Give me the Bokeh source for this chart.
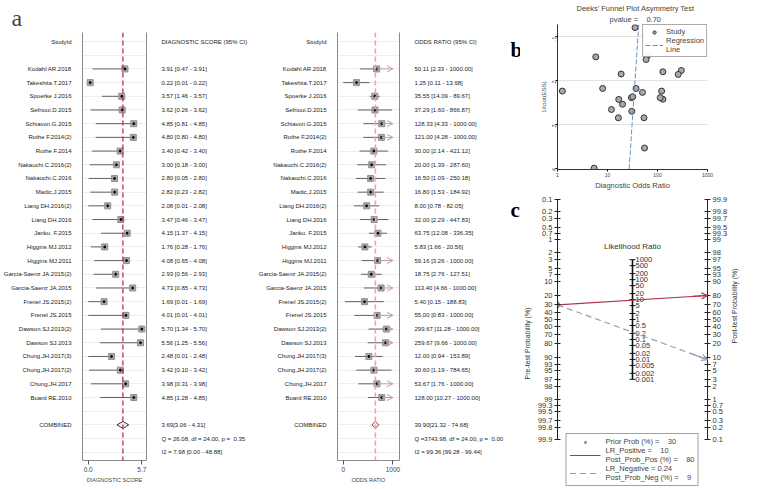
import math
import numpy as np
from bokeh.plotting import figure
from bokeh.models import (Range1d, FixedTicker, LinearAxis, Span, Arrow, OpenHead,
                          Label, Legend, LegendItem, ColumnDataSource, Title)
from bokeh.layouts import row, column
from bokeh.embed import file_html
from bokeh.resources import INLINE
from bokeh.core.properties import value

# ---------------- data ----------------
studies = ["Kodahl AR.2018", "Takeshita.T.2017", "Spoerke J.2016", "Sefrioui.D.2015",
           "Schiavon.G.2015", "Rothe F.2014(2)", "Rothe F.2014", "Nakauchi.C.2016(2)",
           "Nakauchi.C.2016", "Madic,J.2015", "Liang DH.2016(2)", "Liang DH.2016",
           "Janku. F.2015", "Higgins MJ.2012", "Higgins MJ.2011", "Garcia-Saenz JA.2015(2)",
           "Garcia-Saenz JA.2015", "Frenel JS.2015(2)", "Frenel JS.2015", "Dawson SJ.2013(2)",
           "Dawson SJ.2013", "Chung.JH.2017(3)", "Chung,JH.2017(2)", "Chung,JH.2017",
           "Board RE.2010"]
score_est = [3.91, 0.22, 3.57, 3.62, 4.85, 4.80, 3.40, 3.00, 2.80, 2.82, 2.08, 3.47, 4.15,
             1.76, 4.08, 2.93, 4.73, 1.69, 4.01, 5.70, 5.56, 2.48, 3.42, 3.98, 4.85]
score_lo = [0.47, 0.01, 1.46, 0.26, 0.81, 0.80, 0.42, 0.18, 0.05, 0.23, 0.01, 0.46, 1.37,
            0.28, 0.65, 0.56, 0.85, 0.01, 0.01, 1.34, 1.25, 0.01, 0.10, 0.31, 1.28]
score_hi = [3.91, 0.22, 3.57, 3.62, 4.85, 4.80, 3.40, 3.00, 2.80, 2.82, 2.08, 3.47, 4.15,
            1.76, 4.08, 2.93, 4.73, 1.69, 4.01, 5.70, 5.56, 2.48, 3.42, 3.98, 4.85]
or_est = [50.11, 1.25, 35.55, 37.29, 128.33, 121.00, 30.00, 20.00, 16.50, 16.80, 8.00, 32.00,
          63.75, 5.83, 59.16, 18.75, 113.40, 5.40, 55.00, 299.67, 259.67, 12.00, 30.60, 53.67,
          128.00]
or_lo = [2.33, 0.11, 14.09, 1.60, 4.33, 4.28, 2.14, 1.39, 1.09, 1.53, 0.78, 2.29, 12.08, 1.66,
         3.26, 2.76, 4.66, 0.15, 0.83, 11.28, 9.66, 0.94, 1.19, 1.76, 10.27]
or_hi = [1000.00, 13.68, 89.67, 866.87, 1000.00, 1000.00, 421.12, 287.60, 250.18, 184.92,
         82.05, 447.83, 336.35, 20.56, 1000.00, 127.51, 1000.00, 188.83, 1000.00, 1000.00,
         1000.00, 153.89, 784.65, 1000.00, 1000.00]
score_comb = (3.69, 3.06, 4.31)
or_comb = (39.90, 21.32, 74.68)
score_q = "Q = 26.08, df = 24.00, p =  0.35"
score_i2 = "I2 = 7.98 [0.00 - 48.88]"
or_q = "Q =3743.98, df = 24.00, p =  0.00"
or_i2 = "I2 = 99.36 [99.28 - 99.44]"

# Deeks' funnel plot: 1/root(ESS) of each study (x = diagnostic odds ratio)
inv_root_ess = [0.227, 0.224, 0.079, 0.218, 0.2425, 0.224, 0.239, 0.254, 0.285, 0.243, 0.218,
                0.237, 0.1425, 0.146, 0.152, 0.185, 0.239, 0.400, 0.354, 0.177, 0.186, 0.266,
                0.270, 0.285, 0.180]
reg_x = [42.2, 27.0]
reg_y = [0.072, 0.403]
funnel_x_ticks = [1, 10, 100, 1000]
funnel_y_ticks = [0.1, 0.2, 0.3, 0.4]

# Fagan nomogram
pre_ticks = [0.1, 0.2, 0.3, 0.5, 0.7, 1, 2, 3, 5, 7, 10, 20, 30, 40, 50, 60, 70, 80, 90, 93, 95,
             97, 98, 99, 99.3, 99.5, 99.7, 99.8, 99.9]
post_ticks = [99.9, 99.8, 99.7, 99.5, 99.3, 99, 98, 97, 95, 93, 90, 80, 70, 60, 50, 40, 30, 20,
              10, 7, 5, 3, 2, 1, 0.7, 0.5, 0.3, 0.2, 0.1]
lr_ticks = [1000, 500, 200, 100, 50, 20, 10, 5, 2, 1, 0.5, 0.2, 0.1, 0.05, 0.02, 0.01, 0.005,
            0.002, 0.001]
prior_prob = 30
lr_pos = 10
post_pos = 80
lr_neg = 0.24
post_neg = 9
panel_letters = ["b", "c"]

# ---------------- styling ----------------
SANS = "Liberation Sans, Arial, sans-serif"
SERIF = "Liberation Serif, Times New Roman, serif"
NB = "\u00a0"
H = 489
TOP, BOTTOM = 32, 29
N = len(studies)
ROWS = list(range(2, 2 + N))
COMB_ROW, Q_ROW, I2_ROW = N + 3, N + 4, N + 5


def sp(s):
    return s.replace("  ", NB + NB)


def fmt_ci(e, l, h):
    return "%.2f [%.2f - %.2f]" % (e, l, h)


def make_forest(width, xr, bl, br, xcoord, est, lo, hi, est_txt, header, comb, comb_txt,
                q_txt, i2_txt, xticks, xtick_labels, xlabel, vcolor, vwidth, dcolor,
                trunc=None, arrow_color=None):
    p = figure(width=width, height=H, x_range=Range1d(*xr),
               y_range=Range1d(I2_ROW + 0.6, -0.66), output_backend="svg",
               toolbar_location=None, min_border_left=bl, min_border_right=br,
               min_border_top=TOP, min_border_bottom=BOTTOM)
    p.outline_line_color = None
    p.xgrid.visible = False
    p.ygrid.ticker = FixedTicker(ticks=list(range(0, I2_ROW + 1)))
    p.ygrid.grid_line_color = "#eeeeee"

    ax = p.yaxis[0]
    ax.ticker = FixedTicker(ticks=[0] + ROWS + [COMB_ROW])
    ov = {0: "StudyId", COMB_ROW: "COMBINED"}
    ov.update({r: s for r, s in zip(ROWS, studies)})
    ax.major_label_overrides = ov
    rax = LinearAxis(ticker=FixedTicker(ticks=[0] + ROWS + [COMB_ROW, Q_ROW, I2_ROW]))
    rov = {0: header, COMB_ROW: sp(comb_txt), Q_ROW: sp(q_txt), I2_ROW: sp(i2_txt)}
    rov.update({r: s for r, s in zip(ROWS, est_txt)})
    rax.major_label_overrides = rov
    p.add_layout(rax, "right")
    for a in (ax, rax):
        a.axis_line_color = "#8a8a8a"
        a.major_tick_line_color = None
        a.minor_tick_line_color = None
        a.major_label_text_font = SANS
        a.major_label_text_font_size = "6px"
        a.major_label_text_color = "#222222"
    ax.major_label_standoff = 5
    rax.major_label_standoff = 9

    bx = p.xaxis[0]
    bx.ticker = FixedTicker(ticks=xticks)
    bx.major_label_overrides = {t: l for t, l in zip(xticks, xtick_labels)}
    bx.axis_label = xlabel
    bx.axis_label_text_font = SANS
    bx.axis_label_text_font_size = "5.5px"
    bx.axis_label_text_font_style = "normal"
    bx.axis_label_standoff = 2
    bx.major_label_text_font = SANS
    bx.major_label_text_font_size = "6.5px"
    bx.major_label_standoff = 2
    bx.major_tick_in = 0
    bx.major_tick_out = 4
    bx.minor_tick_line_color = None
    bx.axis_line_color = "#8a8a8a"
    bx.major_tick_line_color = "#555555"

    p.add_layout(Span(location=xcoord(comb[0]), dimension="height", line_color=vcolor,
                      line_width=vwidth, line_dash="5 3"))

    x_est = [xcoord(v) for v in est]
    x_lo = [xcoord(v) for v in lo]
    x_hi = [xcoord(v) for v in hi]
    if trunc is not None:
        seg_hi = [xe if t else xh for xe, xh, t in zip(x_est, x_hi, trunc)]
    else:
        seg_hi = x_hi
    src = ColumnDataSource(dict(y=ROWS, est=x_est, lo=x_lo, hi=seg_hi))
    p.segment(x0="lo", y0="y", x1="hi", y1="y", source=src, line_color="#606060", line_width=1)
    if trunc is not None:
        asrc = ColumnDataSource(dict(
            x0=[xe for xe, t in zip(x_est, trunc) if t],
            x1=[xh for xh, t in zip(x_hi, trunc) if t],
            y=[r for r, t in zip(ROWS, trunc) if t]))
        p.add_layout(Arrow(end=OpenHead(size=6, line_color=arrow_color, line_width=1),
                           source=asrc, x_start="x0", y_start="y", x_end="x1", y_end="y",
                           line_color=arrow_color, line_width=1))
    p.scatter(x="est", y="y", marker="square", size=6, fill_color="#a8a8a8",
              line_color="#909090", source=src)
    p.scatter(x="est", y="y", marker="circle", size=2, fill_color="black", line_color="black",
              source=src)
    ce, cl, ch = (xcoord(v) for v in comb)
    p.patch(x=[cl, ce, ch, ce], y=[COMB_ROW, COMB_ROW - 0.25, COMB_ROW, COMB_ROW + 0.25],
            fill_color=None, line_color=dcolor, line_width=1)
    return p


# ---- panel a, left: diagnostic score ----
pa1 = make_forest(250, (-0.6, 6.2), 79, 103, lambda v: v, score_est, score_lo, score_hi,
                  [fmt_ci(e, l, h) for e, l, h in zip(score_est, score_lo, score_hi)],
                  "DIAGNOSTIC SCORE (95% CI)", score_comb,
                  "%.2f[%.2f - %.2f]" % score_comb, score_q, score_i2,
                  [0.0, 5.7], ["0.0", "5.7"], "DIAGNOSTIC SCORE", "#a3283f", 1.2, "#333333")
pa1.add_layout(Title(text="a", align="left", offset=-71, text_font=SERIF,
                     text_font_size="24px", text_font_style="normal", standoff=4,
                     vertical_align="bottom"), "above")

# ---- panel a, right: odds ratio (log scale) ----
trunc = [h >= 1000 for h in or_hi]
or_ticks = [float(np.log(min(or_lo))), float(np.log(1000.0))]
pa2 = make_forest(256, (-3.28, 8.12), 87, 104, lambda v: float(np.log(v)), or_est, or_lo, or_hi,
                  [fmt_ci(e, l, h) for e, l, h in zip(or_est, or_lo, or_hi)],
                  "ODDS RATIO (95% CI)", or_comb,
                  " %.2f[%.2f - %.2f]" % or_comb, or_q, or_i2,
                  or_ticks, ["0", "1000"], "ODDS RATIO", "#eba3b6", 1.6, "#a33a3a",
                  trunc=trunc, arrow_color="#c99a9a")

# ---- panel letters b and c ----
pl = figure(width=14, height=H, x_range=Range1d(0, 14), y_range=Range1d(H, 0),
            output_backend="svg", toolbar_location=None, min_border=0)
pl.axis.visible = False
pl.grid.visible = False
pl.outline_line_color = None
pl.text(x=[4, 4], y=[20, 203], text=panel_letters, text_font=value(SERIF),
        text_font_size={"value": "21px"}, text_font_style="bold", text_baseline="alphabetic",
        text_color="black")

# ---- panel b: Deeks' funnel plot ----
pb = figure(width=258, height=192, x_axis_type="log",
            x_range=Range1d(funnel_x_ticks[0], funnel_x_ticks[-1]),
            y_range=Range1d(0.403, 0.072), output_backend="svg", toolbar_location=None,
            min_border_left=31, min_border_right=71, min_border_top=24, min_border_bottom=20)
pb.outline_line_color = None
pb.xgrid.visible = False
pb.ygrid.ticker = FixedTicker(ticks=funnel_y_ticks[:-1])
pb.ygrid.grid_line_color = "#e2e2e2"
xa = pb.xaxis[0]
xa.ticker = FixedTicker(ticks=funnel_x_ticks)
xa.major_label_overrides = {t: str(t) for t in funnel_x_ticks}
xa.axis_label = "Diagnostic Odds Ratio"
ya = pb.yaxis[0]
ya.ticker = FixedTicker(ticks=funnel_y_ticks)
ya.major_label_overrides = {t: ("%.1f" % t)[1:] for t in funnel_y_ticks}
ya.major_label_orientation = math.pi / 2
ya.axis_label = "1/root(ESS)"
for a in (xa, ya):
    a.major_label_text_font = SANS
    a.major_label_text_font_size = "5px"
    a.major_label_standoff = 1
    a.axis_label_text_font = SANS
    a.axis_label_text_font_style = "normal"
    a.axis_label_standoff = 1
    a.major_tick_in = 0
    a.major_tick_out = 2
    a.minor_tick_line_color = None
    a.axis_line_color = "#333333"
xa.axis_label_text_font_size = "7.5px"
ya.axis_label_text_font_size = "6px"
pts = pb.scatter(x=or_est, y=inv_root_ess, marker="circle", size=6, fill_color="#a9a9a9",
                 line_color="#333333", line_width=1)
reg = pb.line(x=reg_x, y=reg_y, line_color="#6d90b8", line_width=1, line_dash="5 2")
pb.add_layout(Title(text=sp("pvalue =    0.70"), align="left", offset=52, text_font=SANS,
                    text_font_size="7.5px", text_font_style="normal", standoff=1), "above")
pb.add_layout(Title(text="Deeks' Funnel Plot Asymmetry Test", align="left", offset=19,
                    text_font=SANS, text_font_size="7.5px", text_font_style="normal",
                    standoff=0), "above")
lb = Legend(items=[LegendItem(label="Study", renderers=[pts]),
                   LegendItem(label="Regression\nLine", renderers=[reg])],
            location="top_right", label_text_font=SANS, label_text_font_size="7.5px",
            label_text_line_height=0.95, glyph_width=18, glyph_height=8, padding=2,
            spacing=0, margin=0, label_standoff=3, border_line_color="#555555",
            label_height=8)
pb.add_layout(lb, "center")


# ---- panel c: Fagan nomogram ----
def logit(pct):
    q = pct / 100.0
    return math.log(q / (1 - q))


AX_LIM = 6.93
# the frame runs on below the axes so the legend can sit inside it
pc = figure(width=258, height=297, x_range=Range1d(0, 1), y_range=Range1d(-9.70, AX_LIM),
            output_backend="svg", toolbar_location=None, min_border_left=32,
            min_border_right=71, min_border_top=7, min_border_bottom=2)
pc.outline_line_color = None
pc.grid.visible = False
pc.xaxis.visible = False
left_y = [-logit(v) for v in pre_ticks]
right_y = [logit(v) for v in post_ticks]
la = pc.yaxis[0]
la.ticker = FixedTicker(ticks=left_y)
la.major_label_overrides = {y: "%g" % v for y, v in zip(left_y, pre_ticks)}
la.axis_label = "Pre-test Probability (%)"
ra = LinearAxis(ticker=FixedTicker(ticks=right_y))
ra.major_label_overrides = {y: "%g" % v for y, v in zip(right_y, post_ticks)}
ra.axis_label = "Post-test Probability (%)"
ra.axis_label_orientation = math.pi / 2
pc.add_layout(ra, "right")
for a in (la, ra):
    a.bounds = (-AX_LIM, AX_LIM)
    a.axis_line_color = "#222222"
    a.major_tick_in = 3
    a.major_tick_out = 3
    a.major_tick_line_color = "#222222"
    a.minor_tick_line_color = None
    a.major_label_text_font = SANS
    a.major_label_text_font_size = "7.5px"
    a.major_label_text_color = "#333333"
    a.major_label_standoff = 2
    a.axis_label_text_font = SANS
    a.axis_label_text_font_size = "7px"
    a.axis_label_text_font_style = "normal"
    a.axis_label_text_color = "#333333"
    a.axis_label_standoff = 4

mid_y = [math.log(v) / 2 for v in lr_ticks]
pc.line(x=[0.5, 0.5], y=[min(mid_y), max(mid_y)], line_color="#111111", line_width=1.6)
pc.scatter(x=[0.5] * len(mid_y), y=mid_y, marker="dash", size=6, line_color="#111111",
           line_width=1)
pc.text(x=[0.5] * len(mid_y), y=mid_y, text=["%g" % v for v in lr_ticks], x_offset=3,
        text_baseline="middle", text_font=value(SANS), text_font_size="7.5px",
        text_color="#333333")
pc.add_layout(Label(x=0.5, y=math.log(lr_ticks[0]) / 2 + 0.75, text="Likelihood Ratio",
                    text_align="center", text_baseline="middle", text_font=SANS,
                    text_font_size="8px", text_color="#333333"))

y_pre = -logit(prior_prob)
y_pos = logit(post_pos)
y_neg = logit(post_neg)
red = "#b2334b"
blu = "#9a9ab9"
pos_line = pc.line(x=[0, 1], y=[y_pre, y_pos], line_color=red, line_width=1.2)
neg_line = pc.line(x=[0, 1], y=[y_pre, y_neg], line_color=blu, line_width=1.2,
                   line_dash="6 4")
pc.add_layout(Arrow(end=OpenHead(size=6, line_color=red, line_width=1.2), x_start=0.9,
                    y_start=y_pre + 0.9 * (y_pos - y_pre), x_end=1, y_end=y_pos,
                    line_color=red, line_width=1.2))
pc.add_layout(Arrow(end=OpenHead(size=6, line_color=blu, line_width=1.2), x_start=0.9,
                    y_start=y_pre + 0.9 * (y_neg - y_pre), x_end=1, y_end=y_neg,
                    line_color=blu, line_width=1.2))
prior = pc.scatter(x=[0], y=[y_pre], marker="diamond", size=8, fill_color="#6f8c8a",
                   line_color="#6f8c8a")
lc = Legend(items=[
    LegendItem(label=sp("Prior Prob (%%) =    %g" % prior_prob), renderers=[prior]),
    LegendItem(label=sp("LR_Positive =    %g\nPost_Prob_Pos (%%) =    %g" % (lr_pos, post_pos)),
               renderers=[pos_line]),
    LegendItem(label=sp("LR_Negative = %g\nPost_Prob_Neg (%%) =    %g" % (lr_neg, post_neg)),
               renderers=[neg_line])],
    location="bottom_center", label_text_font=SANS, label_text_font_size="7.5px",
    label_text_line_height=1.0, glyph_width=31, glyph_height=8, padding=3, spacing=0,
    margin=1, label_standoff=5, border_line_color="#444444", label_height=8)
pc.add_layout(lc, "center")

layout = row(pa1, pa2, pl, column(pb, pc))
open("out.html", "w").write(file_html(layout, INLINE))
